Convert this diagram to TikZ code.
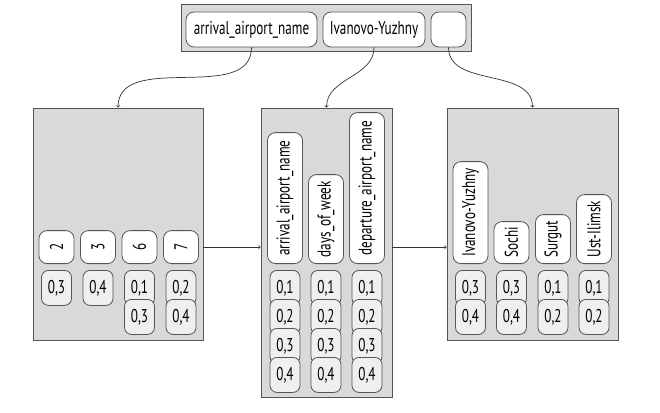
\documentclass[tikz,border=0pt]{standalone}
\usepackage{fontspec}
\setmainfont{PT Sans}[FakeStretch=0.71]
\usepackage{xcolor}
\definecolor{pageGray}{HTML}{D9D9D9}
\definecolor{cellGray}{HTML}{EFEFEF}
\definecolor{lineGray}{HTML}{555555}
\definecolor{arrowGray}{HTML}{333333}

\tikzset{
  page/.style={rectangle, draw=lineGray, fill=pageGray, line width=0.8pt, inner sep=0pt},
  keycell/.style={rectangle, rounded corners=8pt, draw=lineGray, fill=white, line width=0.8pt,
    minimum height=35pt, inner sep=2pt, font=\fontsize{18.5}{22}\selectfont},
  valcell/.style={keycell, rotate=90, anchor=west},
  tidcell/.style={rectangle, rounded corners=7pt, draw=lineGray, fill=cellGray, line width=0.8pt,
    minimum width=30pt, minimum height=35pt, inner sep=1pt, anchor=north,
    font=\fontsize{18.5}{22}\selectfont},
  link/.style={->, draw=arrowGray, line width=0.7pt}
}

\begin{document}
\begin{tikzpicture}[x=1pt, y=-1pt]
  \useasboundingbox (0,0) rectangle (660,412);

  % root page
  \node[page, minimum width=290, minimum height=47] (root) at (326,27.5) {};
  \node[keycell, minimum width=131] (rk1) at (251.5,29.5) {arrival\_airport\_name};
  \node[keycell, minimum width=102] (rk2) at (374,29.5) {Ivanovo-Yuzhny};
  \node[keycell, minimum width=35] (rk3) at (448.5,29.5) {};

  % leaf pages
  \node[page, minimum width=170, minimum height=232] (leafA) at (118,224) {};
  \node[page, minimum width=131, minimum height=289] (leafB) at (326.5,252.5) {};
  \node[page, minimum width=171, minimum height=232] (leafC) at (532.5,224) {};

  % leaf A: days_of_week values
  \node[valcell, minimum width=33] (a1) at (56.5,264) {2};
  \node[valcell, minimum width=33] (a2) at (98,264) {3};
  \node[valcell, minimum width=33] (a3) at (139.5,264) {6};
  \node[valcell, minimum width=33] (a4) at (181,264) {7};
  \node[tidcell] (a1t1) at (56.5,270) {0,3};
  \node[tidcell] (a2t1) at (98,270) {0,4};
  \node[tidcell] (a3t1) at (139.5,270) {0,1};
  \node[tidcell] (a3t2) at (139.5,299) {0,3};
  \node[tidcell] (a4t1) at (181,270) {0,2};
  \node[tidcell] (a4t2) at (181,299) {0,4};

  % leaf B: column names
  \node[valcell, minimum width=131] (b1) at (285,264) {arrival\_airport\_name};
  \node[valcell, minimum width=89] (b2) at (326,264) {days\_of\_week};
  \node[valcell, minimum width=151] (b3) at (367,264) {departure\_airport\_name};
  \foreach \col/\x in {b1/285, b2/326, b3/367}{
    \foreach \i/\y in {1/270, 2/299, 3/328, 4/357}{
      \node[tidcell] (\col t\i) at (\x,\y) {0,\i};
    }
  }

  % leaf C: airport names
  \node[valcell, minimum width=102] (c1) at (470.5,264) {Ivanovo-Yuzhny};
  \node[valcell, minimum width=42] (c2) at (511.5,264) {Sochi};
  \node[valcell, minimum width=49] (c3) at (553,264) {Surgut};
  \node[valcell, minimum width=69] (c4) at (594,264) {Ust-Ilimsk};
  \node[tidcell] (c1t1) at (470.5,270) {0,3};
  \node[tidcell] (c1t2) at (470.5,299) {0,4};
  \node[tidcell] (c2t1) at (511.5,270) {0,3};
  \node[tidcell] (c2t2) at (511.5,299) {0,4};
  \node[tidcell] (c3t1) at (553,270) {0,1};
  \node[tidcell] (c3t2) at (553,299) {0,2};
  \node[tidcell] (c4t1) at (594,270) {0,1};
  \node[tidcell] (c4t2) at (594,299) {0,2};

  % links
  \draw[link] (rk1.south) to[out=-90, in=90] (leafA.north);
  \draw[link] (rk2.south) to[out=-90, in=90] (leafB.north);
  \draw[link] (rk3.south) to[out=-90, in=90] (leafC.north);
  \draw[link] (leafA.east |- a4.center) -- (leafB.west |- a4.center);
  \draw[link] (leafB.east |- a4.center) -- (leafC.west |- a4.center);
\end{tikzpicture}
\end{document}
